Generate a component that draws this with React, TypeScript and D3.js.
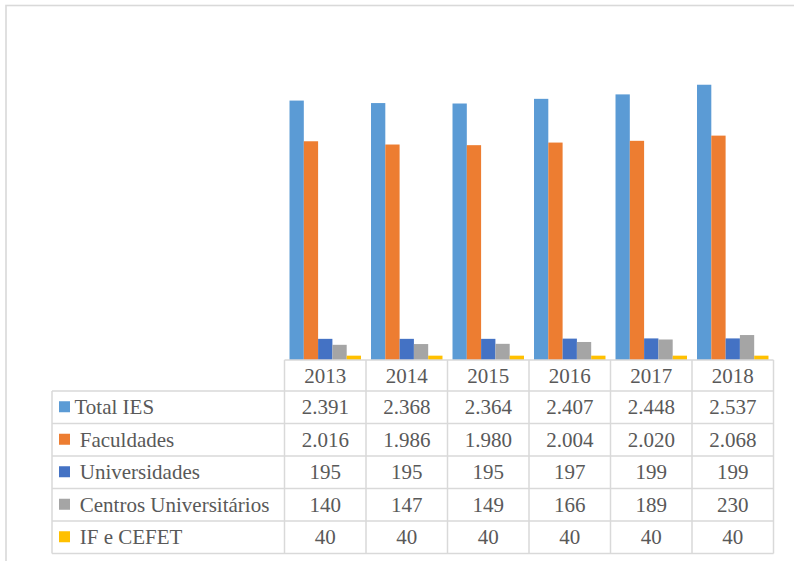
import React from "react";
import * as d3 from "d3";

const years = ["2013", "2014", "2015", "2016", "2017", "2018"];
const seriesNames = ["Total IES", " Faculdades", " Universidades", " Centros Universitários", " IF e CEFET"];
const seriesColors = ["#5B9BD5", "#ED7D31", "#4472C4", "#A5A5A5", "#FFC000"];
const totalIES = [2391, 2368, 2364, 2407, 2448, 2537];
const faculdades = [2016, 1986, 1980, 2004, 2020, 2068];
const universidades = [195, 195, 195, 197, 199, 199];
const centros = [140, 147, 149, 166, 189, 230];
const ifCefet = [40, 40, 40, 40, 40, 40];
const seriesValues = [totalIES, faculdades, universidades, centros, ifCefet];
const title = "Gráfico 1 – Número de IES no Brasil de 2013 a 2018";

const W = 794;
const H = 561;

export default function App() {
  const plotLeft = 284.5;
  const plotRight = 773.5;
  const axisY = 360;
  const tableLeft = 52;
  const headerTop = 360;
  const headerBottom = 391;
  const rowH = 32.5;

  const x = d3.scaleBand<string>().domain(years).range([plotLeft, plotRight]).paddingInner(0.123).paddingOuter(0.0615);
  const xs = d3.scaleBand<number>().domain(d3.range(seriesNames.length)).range([0, x.bandwidth()]);
  const y = d3.scaleLinear().domain([0, 3000]).range([axisY, 34.5]);
  const colStep = (plotRight - plotLeft) / years.length;
  const colEdges = d3.range(years.length + 1).map((i) => plotLeft + i * colStep);

  const fmt = d3.formatLocale({ decimal: ",", thousands: ".", grouping: [3], currency: ["R$", ""] }).format(",d");

  const grid = "#d9d9d9";
  const txt = "#595959";
  const font = "'Liberation Serif', 'Times New Roman', serif";
  const fs = 21;
  const tableBottom = headerBottom + rowH * seriesNames.length;

  return (
    <svg width={W} height={H} style={{ position: "absolute", left: 0, top: 0, background: "#fff" }} fontFamily={font}>
      <text x={3} y={-2.5} fontSize={16} fill="#404040">{title}</text>
      <rect x={6} y={5.5} width={1000} height={1000} fill="none" stroke={grid} strokeWidth={1.6} />

      {seriesValues.map((vals, si) => (
        <g key={si}>
          {vals.map((v, yi) => (
            <rect
              key={yi}
              x={(x(years[yi]) as number) + (xs(si) as number)}
              y={y(v)}
              width={xs.bandwidth()}
              height={axisY - y(v)}
              fill={seriesColors[si]}
            />
          ))}
        </g>
      ))}

      {/* table grid */}
      <line x1={plotLeft} x2={plotRight} y1={headerTop} y2={headerTop} stroke={grid} strokeWidth={1.5} />
      {d3.range(seriesNames.length + 1).map((i) => (
        <line key={"h" + i} x1={tableLeft} x2={plotRight} y1={headerBottom + i * rowH} y2={headerBottom + i * rowH} stroke={grid} strokeWidth={1.5} />
      ))}
      <line x1={tableLeft} x2={tableLeft} y1={headerBottom} y2={tableBottom} stroke={grid} strokeWidth={1.5} />
      {colEdges.map((cx, i) => (
        <line key={"v" + i} x1={cx} x2={cx} y1={headerTop} y2={tableBottom} stroke={grid} strokeWidth={1.5} />
      ))}

      {years.map((yr, i) => (
        <text key={yr} x={plotLeft + (i + 0.5) * colStep} y={(headerTop + headerBottom) / 2 + 7} textAnchor="middle" fontSize={fs} fill={txt}>
          {yr}
        </text>
      ))}

      {seriesNames.map((name, si) => {
        const top = headerBottom + si * rowH;
        const cy = top + rowH / 2;
        return (
          <g key={name}>
            <rect x={59} y={cy - 6} width={11} height={11} fill={seriesColors[si]} />
            <text x={74.5} y={cy + 7} fontSize={fs} fill={txt} style={{ whiteSpace: "pre" }}>
              {name}
            </text>
            {seriesValues[si].map((v, yi) => (
              <text key={yi} x={plotLeft + (yi + 0.5) * colStep} y={cy + 7} textAnchor="middle" fontSize={fs} fill={txt}>
                {fmt(v)}
              </text>
            ))}
          </g>
        );
      })}
    </svg>
  );
}
